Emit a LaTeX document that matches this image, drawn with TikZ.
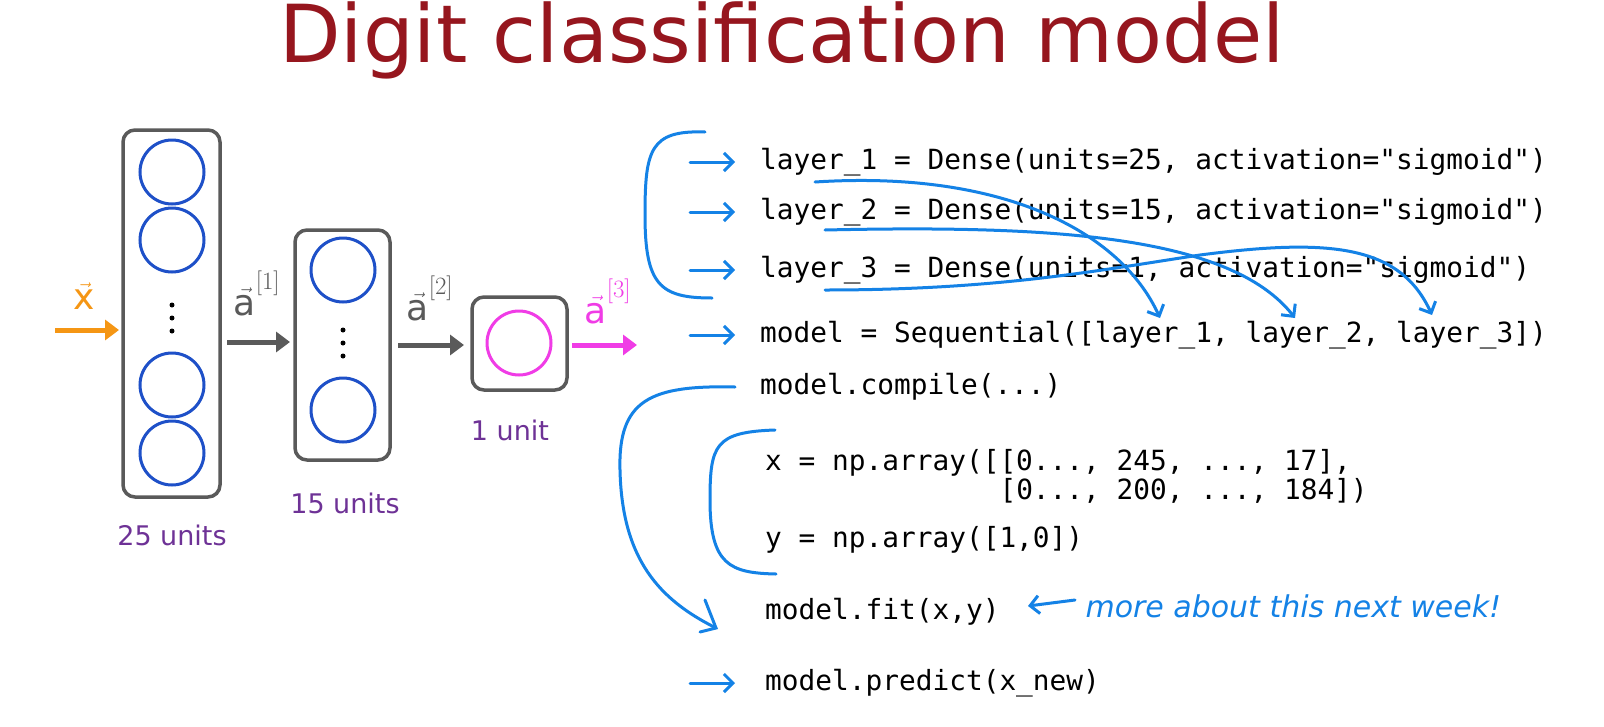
\documentclass[tikz,border=0pt]{standalone}
\usepackage{fontspec}
\setmainfont{DejaVu Sans}
\setmonofont{DejaVu Sans Mono}
\usetikzlibrary{arrows.meta}
\definecolor{ttl}{RGB}{150,22,30}
\definecolor{hb}{RGB}{20,130,230}
\definecolor{cb}{RGB}{30,80,200}
\definecolor{pur}{RGB}{110,50,150}
\definecolor{mag}{RGB}{240,60,230}
\definecolor{org}{RGB}{245,150,20}
\definecolor{gr}{RGB}{90,90,90}
\begin{document}
\begin{tikzpicture}[x=1pt,y=-1pt,
  box/.style={draw=gr,line width=3.5pt,rounded corners=12pt},
  unit/.style={draw=cb,line width=3pt,circle,minimum size=64pt,inner sep=0},
  dot/.style={fill=black,circle,minimum size=5pt,inner sep=0},
  code/.style={font=\fontsize{27.8}{30}\ttfamily,anchor=west,inner sep=0},
  hand/.style={hb,line width=3pt,line cap=round},
  ha/.style={hand,-{Straight Barb[length=9pt,width=18pt]}},
  thick arrow/.style={line width=5pt,-{Triangle[length=14pt,width=20pt]}},
  vec/.style={font=\fontsize{36}{36}\selectfont},
  lbl/.style={font=\fontsize{27}{30}\selectfont,pur}]
\useasboundingbox (0,0) rectangle (1604,726);
\fill[white] (0,0) rectangle (1604,726);
\node[ttl,font=\fontsize{80}{90}\selectfont] (title) at (782,40) {Digit classification model};
% layers
\draw[box] (123,130) rectangle (220,497);
\node[unit] (c1) at (172,172) {};
\node[unit] (c2) at (172,240) {};
\foreach \y [count=\i] in {305,318,331} \node[dot] (da\i) at (172,\y) {};
\node[unit] (c3) at (172,385) {};
\node[unit] (c4) at (172,453) {};
\draw[box] (295,230) rectangle (390,460);
\node[unit] (e1) at (343,270) {};
\foreach \y [count=\i] in {330,343,356} \node[dot] (db\i) at (343,\y) {};
\node[unit] (e2) at (343,410) {};
\draw[box] (472,297) rectangle (567,390);
\node[unit,draw=mag] (o1) at (519,343) {};
\coordinate (xa) at (55,330); \coordinate (xb) at (119,330);
\draw[org,thick arrow] (xa) -- (xb);
\coordinate (a1a) at (227,342); \coordinate (a1b) at (290,342);
\draw[gr,thick arrow] (a1a) -- (a1b);
\coordinate (a2a) at (398,345); \coordinate (a2b) at (464,345);
\draw[gr,thick arrow] (a2a) -- (a2b);
\coordinate (a3a) at (572,345); \coordinate (a3b) at (637,345);
\draw[mag,thick arrow] (a3a) -- (a3b);
\node[org,vec] (lx) at (84,296) {$\vec{\mathrm{x}}$};
\node[gr,vec] (l1) at (257,293) {$\vec{\mathrm{a}}^{[1]}$};
\node[gr,vec] (l2) at (430,298) {$\vec{\mathrm{a}}^{[2]}$};
\node[mag,vec] (l3) at (608,301) {$\vec{\mathrm{a}}^{[3]}$};
\node[lbl] (u25) at (172,535) {25 units};
\node[lbl] (u15) at (345,503) {15 units};
\node[lbl] (u1) at (510,430) {1 unit};
% code
\node[code] (k1) at (760,162) {layer\_1 = Dense(units=25, activation="sigmoid")};
\node[code] (k2) at (760,212) {layer\_2 = Dense(units=15, activation="sigmoid")};
\node[code] (k3) at (760,270) {layer\_3 = Dense(units=1, activation="sigmoid")};
\node[code] (k4) at (760,335) {model = Sequential([layer\_1, layer\_2, layer\_3])};
\node[code] (k5) at (760,387) {model.compile(...)};
\node[code] (k6) at (765,463) {x = np.array([[0..., 245, ..., 17],};
\node[code] (k7) at (765,492) {\phantom{x = np.array([}[0..., 200, ..., 184])};
\node[code] (k8) at (765,540) {y = np.array([1,0])};
\node[code] (k9) at (765,612) {model.fit(x,y)};
\node[code] (k10) at (765,683) {model.predict(x\_new)};
% small arrows
\foreach \n/\y in {s1/162,s2/212,s3/270,s4/335,s5/683}{
  \coordinate (\n a) at (690,\y); \coordinate (\n b) at (735,\y);
  \draw[ha] (\n a) -- (\n b);}
% braces
\coordinate (b1s) at (705,132); \coordinate (b1e) at (712,298);
\draw[hand] (b1s) .. controls (650,130) and (645,150) .. (645,215) .. controls (645,285) and (660,298) .. (b1e);
\coordinate (b2s) at (735,387); \coordinate (b2e) at (716,628);
\draw[hand] (b2s) .. controls (650,385) and (618,400) .. (620,470) .. controls (622,560) and (660,600) .. (b2e);
\coordinate (b2h) at (705,600);
\draw[hand] (b2h) -- (b2e) -- (700,632);
\coordinate (b3s) at (775,430); \coordinate (b3e) at (776,574);
\draw[hand] (b3s) .. controls (715,432) and (710,445) .. (710,500) .. controls (710,565) and (730,573) .. (b3e);
% curved arrows
\coordinate (p1) at (815,182); \coordinate (q1) at (1160,318);
\draw[ha] (p1) .. controls (1000,170) and (1120,230) .. (q1);
\coordinate (p2) at (825,230); \coordinate (q2) at (1295,318);
\draw[ha] (p2) .. controls (1050,225) and (1230,235) .. (q2);
\coordinate (p3) at (825,290); \coordinate (q3) at (1432,315);
\draw[ha] (p3) .. controls (1000,290) and (1100,270) .. (1200,255) .. controls (1330,238) and (1400,245) .. (q3);
% note
\coordinate (n1) at (1075,600); \coordinate (n2) at (1028,606);
\draw[ha] (n1) -- (n2);
\node[hb,font=\fontsize{30}{30}\itshape,anchor=west] (note) at (1082,606) {more about this next week!};
\end{tikzpicture}
\end{document}
